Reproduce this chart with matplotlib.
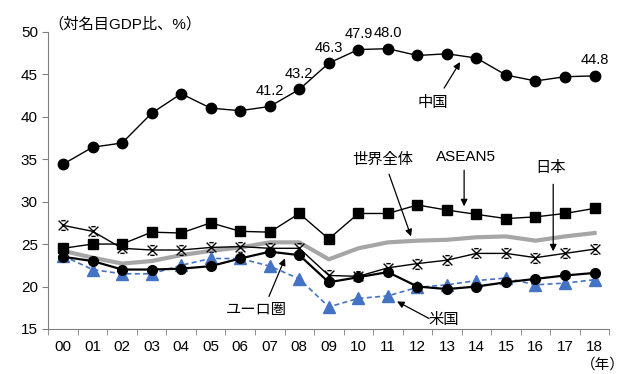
import matplotlib
matplotlib.use("Agg")
import matplotlib.pyplot as plt
from matplotlib.path import Path
import numpy as np

plt.rcParams['font.family'] = ['Liberation Sans', 'Noto Sans CJK JP', 'DejaVu Sans']

years = ["00", "01", "02", "03", "04", "05", "06", "07", "08", "09",
         "10", "11", "12", "13", "14", "15", "16", "17", "18"]
china = [34.4, 36.4, 36.9, 40.4, 42.7, 41.0, 40.7, 41.2, 43.2, 46.3,
         47.9, 48.0, 47.2, 47.4, 46.9, 44.9, 44.2, 44.7, 44.8]
asean5 = [24.5, 25.0, 25.0, 26.4, 26.3, 27.5, 26.5, 26.4, 28.6, 25.6,
          28.6, 28.6, 29.6, 29.0, 28.5, 28.0, 28.2, 28.6, 29.2]
world = [24.2, 23.4, 22.7, 23.0, 23.7, 24.2, 24.6, 25.2, 25.2, 23.2,
         24.5, 25.2, 25.4, 25.5, 25.8, 25.9, 25.4, 25.9, 26.3]
japan = [27.2, 26.5, 24.5, 24.3, 24.3, 24.6, 24.7, 24.5, 24.5, 21.3,
         21.2, 22.2, 22.7, 23.1, 23.9, 23.9, 23.4, 23.9, 24.4]
euro = [23.5, 23.0, 22.0, 22.0, 22.1, 22.4, 23.3, 24.1, 23.7, 20.5,
        21.1, 21.7, 20.0, 19.7, 20.0, 20.5, 20.9, 21.3, 21.6]
usa = [23.6, 22.0, 21.5, 21.5, 22.5, 23.3, 23.3, 22.4, 20.9, 17.6,
       18.6, 18.9, 19.9, 20.2, 20.7, 21.0, 20.2, 20.4, 20.8]
china_labels = {"07": 41.2, "08": 43.2, "09": 46.3, "10": 47.9, "11": 48.0, "18": 44.8}
yticks = [15, 20, 25, 30, 35, 40, 45, 50]

# custom "ж"-like star marker
verts = [(-1, -1), (1, 1), (-1, 1), (1, -1), (-0.45, 1), (0.45, 1), (-0.45, -1), (0.45, -1)]
codes = [Path.MOVETO, Path.LINETO] * 4
star = Path(verts, codes)

fig = plt.figure(figsize=(6.28, 3.74), dpi=100)
ax = fig.add_axes([48.3/628, 1-329/374, (609.3-48.3)/628, (329-31.7)/374])
x = np.arange(len(years))

ax.plot(x, world, color='#a6a6a6', lw=3, zorder=2)
ax.plot(x, asean5, color='black', lw=1, marker='s', ms=7, zorder=4)
ax.plot(x, japan, color='black', lw=1, marker=star, ms=7, mew=1, zorder=3)
ax.plot(x, usa, color='#4472c4', lw=1.2, ls=(0, (3, 2)), marker='^', ms=8, zorder=3)
ax.plot(x, euro, color='black', lw=1.6, marker='o', ms=7, zorder=4)
ax.plot(x, china, color='black', lw=1, marker='o', ms=7.5, zorder=4)

for k, v in china_labels.items():
    i = years.index(k)
    ax.text(i, v + 1.0, f"{v:.1f}", ha='center', va='bottom', fontsize=10.5)

ax.set_xlim(-0.5, 18.5)
ax.set_ylim(15, 50)
ax.set_yticks(yticks)
ax.set_xticks(x)
ax.set_xticklabels(years)
ax.set_xticks(np.arange(-0.5, 19, 1), minor=True)
ax.tick_params(axis='x', which='major', length=0, pad=8, labelsize=11)
ax.tick_params(axis='x', which='minor', length=4, color='#808080', direction='out')
ax.tick_params(axis='y', length=4, color='#808080', direction='out', labelsize=11)
for s in ['top', 'right']:
    ax.spines[s].set_visible(False)
for s in ['left', 'bottom']:
    ax.spines[s].set_color('#808080')

fig.text(48/628, 1-24/374, "（対名目GDP比、%）", fontsize=11, ha='left', va='center')
fig.text(625/628, 1-365/374, "（年）", fontsize=10.5, ha='right', va='center')

def ann(txt, xy_txt, xy_arrow_start, xy_end):
    ax.text(xy_txt[0], xy_txt[1], txt, ha='center', va='center', fontsize=11)
    ax.annotate("", xy=xy_end, xytext=xy_arrow_start,
                arrowprops=dict(arrowstyle='-|>', color='black', lw=0.9,
                                mutation_scale=10, shrinkA=0, shrinkB=0))

def px(xp, yp):
    xd = (xp - 62.3) / 29.5
    yd = 50 - (yp - 31.7) / 8.48
    return (xd, yd)

ann("中国", px(431.7, 103), px(443, 88), px(459, 62))
ann("世界全体", px(381.7, 160), px(388, 174), px(410, 236))
ann("ASEAN5", px(465, 157), px(463, 170), px(463, 206))
ann("日本", px(549, 168), px(552, 184), px(552, 251))
ann("ユーロ圏", px(255, 310), px(268, 296), px(284, 258))
ann("米国", px(443, 320), px(428, 318), px(396, 301))

fig.savefig("out.png", dpi=100)
